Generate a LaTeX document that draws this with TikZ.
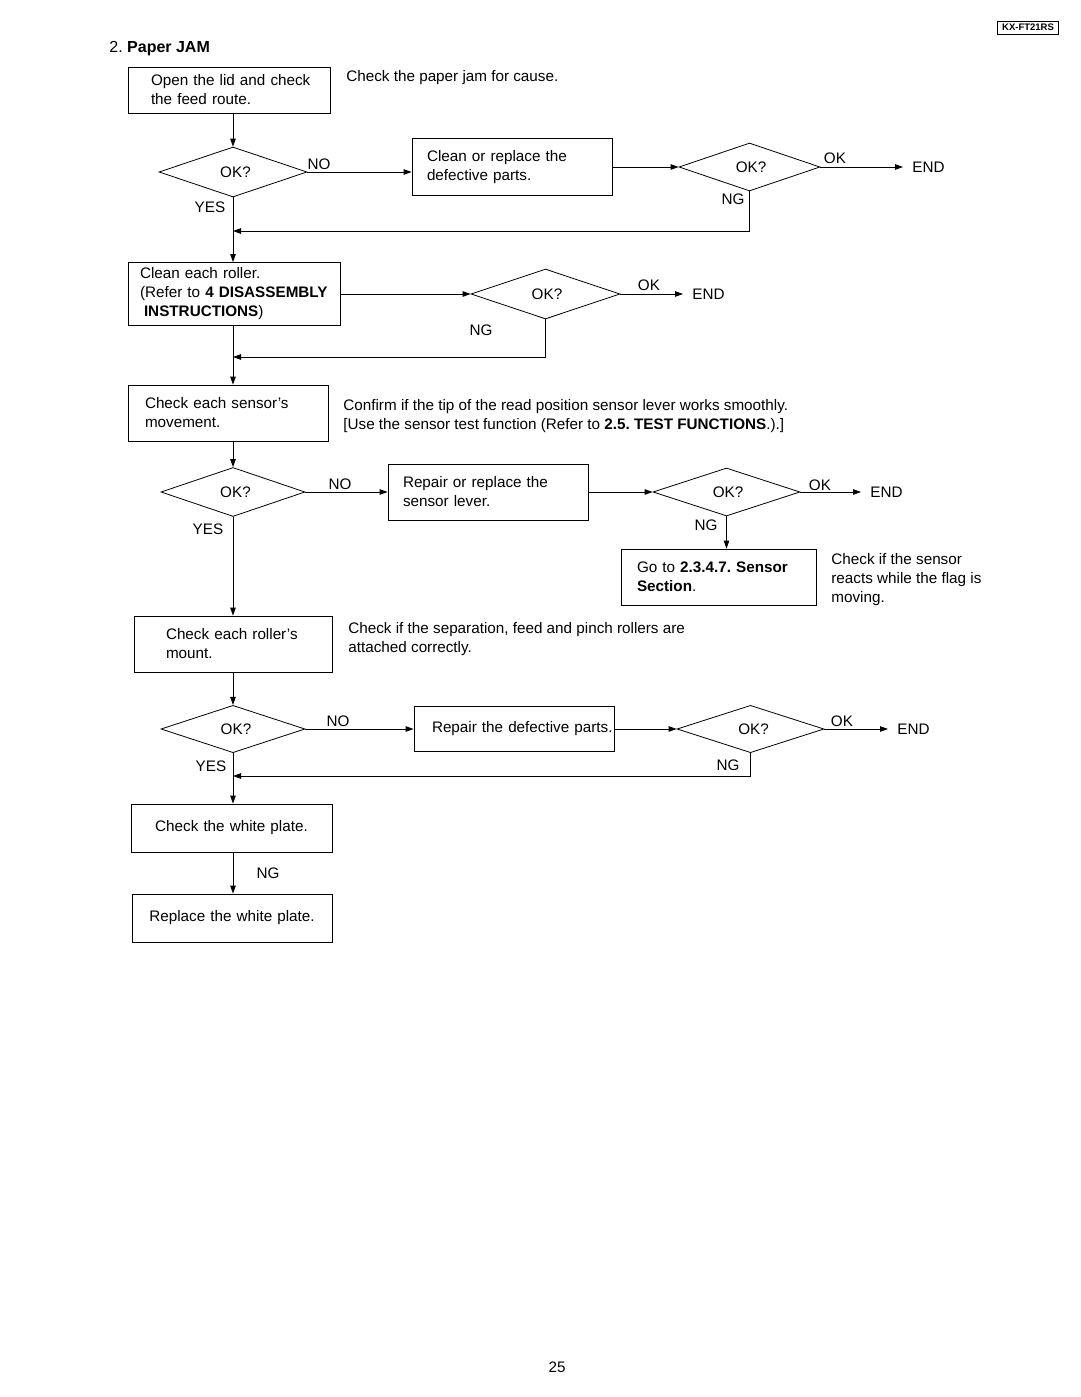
\documentclass[tikz,border=0pt]{standalone}
\usepackage{fontspec}
\setmainfont{Liberation Sans}
\usetikzlibrary{shapes.geometric,arrows.meta}
\frenchspacing

\begin{document}
\begin{tikzpicture}[x=1pt,y=-1pt,line width=0.8pt,
every node/.style={font=\fontsize{15.25}{19}\selectfont},
blk/.style={draw,align=left,inner ysep=0pt},
ok/.style={draw,diamond,inner sep=0pt},
arr/.style={-{Triangle[length=8pt,width=5.5pt]}},
fin/.style={inner xsep=9pt,anchor=west},
lbl/.style={inner sep=0pt},
note/.style={align=left,inner sep=0pt,anchor=west},
%ok/.style={draw,diamond,aspect=3},
]
\useasboundingbox (0,0) rectangle (1080,1397);

\node[lbl,anchor=west] (title) at (109,49) {\fontsize{16}{19}\selectfont 2. \textbf{Paper JAM}};
\node[draw,inner xsep=5pt,inner ysep=1pt,minimum height=13pt,font=\fontsize{9.5}{10}\selectfont\bfseries] (model) at (1028,27.5) {KX-FT21RS};

% boxes
\node[blk,text width=156pt,inner xsep=23pt,minimum height=46pt] (open) at (229,90) {\mbox{Open the lid and check}\\the feed route.};
\node[blk,text width=170pt,inner xsep=15pt,minimum height=57pt] (clean) at (512,167) {Clean or replace the\\defective parts.};
\node[blk,text width=188pt,inner xsep=12pt,minimum height=63pt] (roller) at (234,294) {Clean each roller.\\\mbox{(Refer to \textbf{4 DISASSEMBLY}}\\\hspace*{4pt}\textbf{INSTRUCTIONS})};
\node[blk,text width=166pt,inner xsep=17pt,minimum height=56pt] (sensor) at (228,413) {Check each sensor's\\movement.};
\node[blk,text width=170pt,inner xsep=15pt,minimum height=56pt] (lever) at (488,492) {Repair or replace the\\sensor lever.};
\node[blk,text width=163pt,inner xsep=16pt,minimum height=56pt] (goto) at (718.5,577) {Go to \textbf{2.3.4.7. Sensor}\\\textbf{Section}.};
\node[blk,text width=134pt,inner xsep=32pt,minimum height=56pt] (mount) at (233,644) {\mbox{Check each roller's}\\mount.};
\node[blk,text width=182pt,inner xsep=9pt,minimum height=45pt] (repair) at (514,729) {\hspace*{9pt}\mbox{Repair the defective parts.}};
\node[blk,align=center,text width=181pt,inner xsep=10pt,minimum height=48pt] (white) at (231.5,828) {Check the white plate.};
\node[blk,align=center,text width=180pt,inner xsep=10pt,minimum height=48pt] (replace) at (232,918) {Replace the white plate.};

% decisions
\node[ok,minimum width=148pt,minimum height=50pt] (d1) at (233,172) {\kern5pt OK?};
\node[ok,minimum width=141pt,minimum height=48pt] (d2) at (749.5,167) {\kern3pt OK?};
\node[ok,minimum width=149pt,minimum height=50pt] (d3) at (545.5,294) {\kern3pt OK?};
\node[ok,minimum width=144pt,minimum height=49pt] (d4) at (233,492) {\kern5pt OK?};
\node[ok,minimum width=147pt,minimum height=48pt] (d5) at (726.5,492) {\kern3pt OK?};
\node[ok,minimum width=144pt,minimum height=47pt] (d6) at (233,729) {\kern6pt OK?};
\node[ok,minimum width=147pt,minimum height=46pt] (d7) at (750.5,729) {\kern6pt OK?};

\node[fin] (end1) at (903,167) {END};
\node[fin] (end2) at (683,294) {END};
\node[fin] (end3) at (861,492) {END};
\node[fin] (end4) at (888,729) {END};

\coordinate (m1) at (233,231);
\coordinate (m2) at (233,357);
\coordinate (m3) at (233,776);

% notes
\node[note] (n1) at (346,78) {Check the paper jam for cause.};
\node[note] (n2) at (343,416.5) {Confirm if the tip of the read position sensor lever works smoothly.\\{[}Use the sensor test function (Refer to \textbf{2.5. TEST FUNCTIONS}.).]};
\node[note] (n3) at (831,580) {Check if the sensor\\reacts while the flag is\\moving.};
\node[note] (n4) at (348,639.5) {Check if the separation, feed and pinch rollers are\\attached correctly.};

% labels
\node[lbl] (no1) at (319,164) {NO};
\node[lbl] (no2) at (340,484) {NO};
\node[lbl] (no3) at (338,721) {NO};
\node[lbl] (yes1) at (210,207) {YES};
\node[lbl] (yes2) at (208,529) {YES};
\node[lbl] (yes3) at (211,766) {YES};
\node[lbl] (ok1) at (835,158) {OK};
\node[lbl] (ok2) at (649,285) {OK};
\node[lbl] (ok3) at (820,485) {OK};
\node[lbl] (ok4) at (842,721) {OK};
\node[lbl] (ng1) at (733,199) {NG};
\node[lbl] (ng2) at (481,330) {NG};
\node[lbl] (ng3) at (706,525) {NG};
\node[lbl] (ng4) at (728,765) {NG};
\node[lbl] (ng5) at (268,873) {NG};

\node (page) at (557,1367) {25};

% connectors
\draw[arr] (d1.north |- open.south) -- (d1.north);
\draw[arr] (d1.east) -- (d1.east -| clean.west);
\draw[arr] (clean.east) -- (d2.west);
\draw[arr] (d2.east) -- (end1);
\draw[arr] (d2.south) |- (m1);
\draw[arr] (d1.south) -- (d1.south |- roller.north);
\draw[arr] (roller.east) -- (d3.west);
\draw[arr] (d3.east) -- (end2);
\draw[arr] (d3.south) |- (m2);
\draw[arr] (d1.south |- roller.south) -- (d1.south |- sensor.north);
\draw[arr] (d4.north |- sensor.south) -- (d4.north);
\draw[arr] (d4.east) -- (lever);
\draw[arr] (lever.east) -- (d5.west);
\draw[arr] (d5.east) -- (end3);
\draw[arr] (d5.south) -- (d5.south |- goto.north);
\draw[arr] (d4.south) -- (d4.south |- mount.north);
\draw[arr] (d6.north |- mount.south) -- (d6.north);
\draw[arr] (d6.east) -- (repair);
\draw[arr] (repair.east) -- (d7.west);
\draw[arr] (d7.east) -- (end4);
\draw[arr] (d7.south) |- (m3);
\draw[arr] (d6.south) -- (d6.south |- white.north);
\draw[arr] (d6.south |- white.south) -- (d6.south |- replace.north);
\end{tikzpicture}
\end{document}
